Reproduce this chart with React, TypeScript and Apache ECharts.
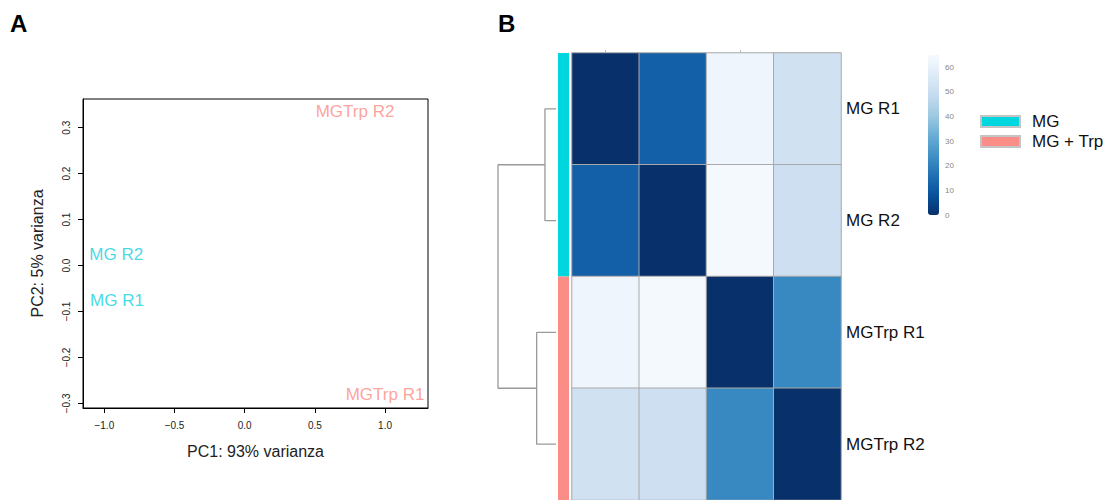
import React, { useEffect, useRef } from "react";
import * as echarts from "echarts";

const FONT = "'Liberation Sans', Arial, Helvetica, sans-serif";

// Panel A: PCA
const pcaNames = ["MG R1", "MG R2", "MGTrp R1", "MGTrp R2"];
const pcaGroups = ["MG", "MG", "MG + Trp", "MG + Trp"];
const pc1 = [-0.91, -0.915, 1.0, 0.786];
const pc2 = [-0.077, 0.023, -0.28, 0.336];
const pcaXTicks = [-1.0, -0.5, 0.0, 0.5, 1.0];
const pcaYTicks = [-0.3, -0.2, -0.1, 0.0, 0.1, 0.2, 0.3];

// Panel B: sample distance heatmap
const sampleNames = ["MG R1", "MG R2", "MGTrp R1", "MGTrp R2"];
const sampleGroups = ["MG", "MG", "MG + Trp", "MG + Trp"];
const distRow1 = [0, 12, 62, 52];
const distRow2 = [12, 0, 64, 51];
const distRow3 = [62, 64, 0, 22];
const distRow4 = [52, 51, 22, 0];
const distMatrix = [distRow1, distRow2, distRow3, distRow4];
const colorbarTicks = [0, 10, 20, 30, 40, 50, 60];
const distMax = 65;

// Dendrogram merge heights: MG pair, MGTrp pair, root
const mergeMG = 12;
const mergeTrp = 21;
const mergeRoot = 63;

const groupColors: Record<string, string> = { MG: "#00D6DE", "MG + Trp": "#FA8D85" };
const labelColors: Record<string, string> = { MG: "#12D2DB", "MG + Trp": "#FC8B83" };
const blues = ["#08306b", "#08519c", "#2171b5", "#4292c6", "#6baed6", "#9ecae1", "#c6dbef", "#deebf7", "#f7fbff"];

const fmt = (v: number) => (v < 0 ? "\u2212" + Math.abs(v).toFixed(1) : v.toFixed(1));

export default function App() {
  const ref = useRef<HTMLDivElement>(null);
  useEffect(() => {
    if (!ref.current) return;
    const chart = echarts.init(ref.current, undefined, { renderer: "svg" });

    const heatData: number[][] = [];
    distMatrix.forEach((row, r) => row.forEach((v, c) => heatData.push([c, r, v])));

    const sideSeries = Object.keys(groupColors).map((g) => ({
      type: "bar",
      name: g,
      xAxisIndex: 2,
      yAxisIndex: 2,
      stack: "side",
      barWidth: "100%",
      data: [sampleGroups.filter((sg) => sg === g).length],
      itemStyle: { color: groupColors[g] },
      emphasis: { disabled: true },
    }));

    const c0 = 0.5, c1 = 1.5, c2 = 2.5, c3 = 3.5;
    const cA = (c0 + c1) / 2, cB = (c2 + c3) / 2;
    const dendroPaths = [
      [[0, c0], [mergeMG, c0], [mergeMG, c1], [0, c1]],
      [[0, c2], [mergeTrp, c2], [mergeTrp, c3], [0, c3]],
      [[mergeMG, cA], [mergeRoot, cA], [mergeRoot, cB], [mergeTrp, cB]],
    ];

    const option: any = {
      animation: false,
      textStyle: { fontFamily: FONT },
      title: [
        { text: "A", left: 10, top: 11, padding: 0, textStyle: { fontSize: 24, fontWeight: "bold", color: "#000", fontFamily: FONT } },
        { text: "B", left: 498, top: 11, padding: 0, textStyle: { fontSize: 24, fontWeight: "bold", color: "#000", fontFamily: FONT } },
      ],
      legend: {
        data: Object.keys(groupColors),
        orient: "vertical",
        left: 980,
        top: 113,
        padding: 0,
        itemWidth: 39,
        itemHeight: 11,
        itemGap: 3,
        icon: "rect",
        selectedMode: false,
        itemStyle: { borderColor: "#c4c4c4", borderWidth: 2 },
        textStyle: { fontSize: 17, color: "#111", fontFamily: FONT, padding: [0, 0, 0, 7] },
      },
      grid: [
        { left: 83, top: 99, width: 345, height: 309, show: true, borderColor: "#000", borderWidth: 1, backgroundColor: "transparent" },
        { left: 572, top: 53, width: 269, height: 448 },
        { left: 558, top: 53, width: 11, height: 448 },
        { left: 498, top: 53, width: 58, height: 448 },
        { left: 928, top: 55, width: 11, height: 160 },
      ],
      xAxis: [
        {
          type: "value",
          gridIndex: 0,
          min: -1.152,
          max: 1.306,
          name: "PC1: 93% varianza",
          nameLocation: "middle",
          nameGap: 35,
          nameTextStyle: { fontSize: 16, color: "#222", fontFamily: FONT },
          splitLine: { show: false },
          axisLine: { show: true, onZero: false, lineStyle: { color: "#000", width: 1 } },
          axisTick: { show: true, length: 5, lineStyle: { color: "#000" }, customValues: pcaXTicks },
          axisLabel: { fontSize: 10, color: "#222", margin: 12, customValues: pcaXTicks, formatter: (v: number) => fmt(v) },
        },
        {
          type: "category",
          gridIndex: 1,
          position: "top",
          data: sampleNames,
          axisLine: { show: false },
          axisTick: { show: true, length: 3, alignWithLabel: true, lineStyle: { color: "#bbb" } },
          axisLabel: { show: false },
          splitLine: { show: false },
        },
        { type: "category", gridIndex: 2, data: ["group"], show: false },
        { type: "value", gridIndex: 3, min: 0, max: mergeRoot, inverse: true, show: false },
        { type: "category", gridIndex: 4, data: ["scale"], show: false },
      ],
      yAxis: [
        {
          type: "value",
          gridIndex: 0,
          min: -0.31,
          max: 0.3624,
          name: "PC2: 5% varianza",
          nameLocation: "middle",
          nameGap: 38,
          nameTextStyle: { fontSize: 16, color: "#222", fontFamily: FONT },
          splitLine: { show: false },
          axisLine: { show: true, onZero: false, lineStyle: { color: "#000", width: 1 } },
          axisTick: { show: true, length: 5, lineStyle: { color: "#000" }, customValues: pcaYTicks },
          axisLabel: { fontSize: 10, color: "#222", margin: 12, rotate: 90, customValues: pcaYTicks, formatter: (v: number) => fmt(v) },
        },
        {
          type: "category",
          gridIndex: 1,
          position: "right",
          inverse: true,
          data: sampleNames,
          axisLine: { show: false },
          axisTick: { show: false },
          axisLabel: { fontSize: 17, color: "#111", margin: 5, fontFamily: FONT },
          splitLine: { show: false },
        },
        { type: "value", gridIndex: 2, min: 0, max: sampleNames.length, inverse: true, show: false },
        { type: "value", gridIndex: 3, min: 0, max: 4, inverse: true, show: false },
        {
          type: "value",
          gridIndex: 4,
          position: "right",
          min: 0,
          max: distMax,
          axisLine: { show: false },
          axisTick: { show: false },
          splitLine: { show: false },
          axisLabel: { fontSize: 8, color: "#888", margin: 6, customValues: colorbarTicks },
        },
      ],
      visualMap: {
        type: "continuous",
        seriesIndex: 1,
        min: 0,
        max: distMax,
        calculable: false,
        hoverLink: false,
        left: 928,
        top: 55,
        padding: 0,
        itemWidth: 11,
        itemHeight: 160,
        inRange: { color: blues },
      },
      series: [
        {
          type: "scatter",
          xAxisIndex: 0,
          yAxisIndex: 0,
          symbolSize: 0,
          data: pcaNames.map((n, i) => ({
            name: n,
            value: [pc1[i], pc2[i]],
            label: { color: labelColors[pcaGroups[i]] },
          })),
          label: { show: true, position: "inside", formatter: (p: any) => p.name, fontSize: 17, fontFamily: FONT },
          emphasis: { disabled: true },
        },
        {
          type: "heatmap",
          xAxisIndex: 1,
          yAxisIndex: 1,
          data: heatData,
          itemStyle: { borderColor: "#a9a9a9", borderWidth: 1 },
          emphasis: { disabled: true },
        },
        ...sideSeries,
        ...dendroPaths.map((p) => ({
          type: "line",
          xAxisIndex: 3,
          yAxisIndex: 3,
          data: p,
          symbol: "none",
          lineStyle: { color: "#9a9a9a", width: 1.3 },
          emphasis: { disabled: true },
        })),
        { type: "scatter", xAxisIndex: 4, yAxisIndex: 4, data: [], silent: true },
      ],
    };
    chart.setOption(option);
    return () => chart.dispose();
  }, []);
  return <div ref={ref} style={{ position: "fixed", left: 0, top: 0, width: 1114, height: 500, background: "#fff" }} />;
}
